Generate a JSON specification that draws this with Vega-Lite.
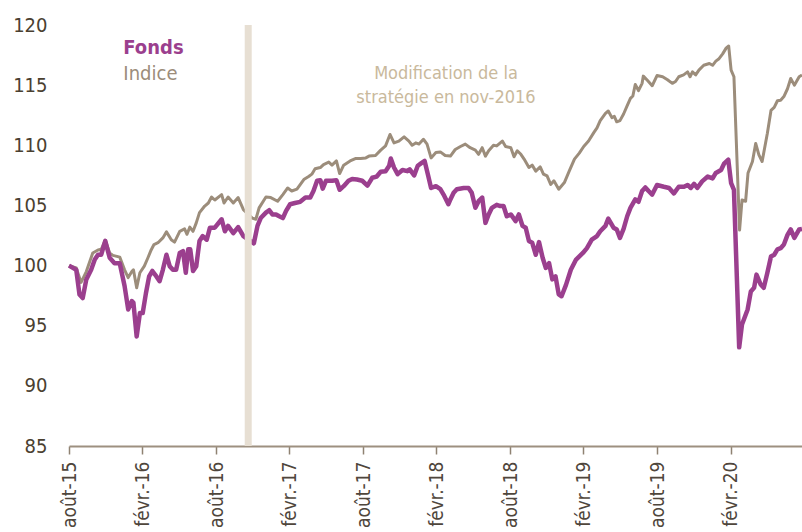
{
  "$schema": "https://vega.github.io/schema/vega-lite/v6.json",
  "width": 733,
  "height": 421,
  "autosize": "none",
  "padding": {"left": 69, "top": 25, "right": 0, "bottom": 86},
  "background": "white",
  "config": {"view": {"stroke": null}, "font": "DejaVu Sans Condensed, Liberation Sans"},
  "datasets": {
    "series": [
      {"d":"2015-08-31","s":"Indice","v":100.0},{"d":"2015-09-18","s":"Indice","v":99.8},{"d":"2015-09-30","s":"Indice","v":98.6},{"d":"2015-10-13","s":"Indice","v":99.5},{"d":"2015-10-29","s":"Indice","v":101.05},{"d":"2015-11-11","s":"Indice","v":101.3},{"d":"2015-11-19","s":"Indice","v":101.35},{"d":"2015-11-29","s":"Indice","v":102.1},{"d":"2015-12-10","s":"Indice","v":101.05},{"d":"2015-12-18","s":"Indice","v":100.85},
      {"d":"2016-01-04","s":"Indice","v":100.7},{"d":"2016-01-16","s":"Indice","v":99.65},{"d":"2016-01-25","s":"Indice","v":99.0},{"d":"2016-02-03","s":"Indice","v":99.5},{"d":"2016-02-07","s":"Indice","v":99.65},{"d":"2016-02-15","s":"Indice","v":98.15},{"d":"2016-02-23","s":"Indice","v":99.4},{"d":"2016-03-05","s":"Indice","v":99.95},{"d":"2016-03-14","s":"Indice","v":100.65},{"d":"2016-03-22","s":"Indice","v":101.3},
      {"d":"2016-03-29","s":"Indice","v":101.75},{"d":"2016-04-08","s":"Indice","v":101.9},{"d":"2016-04-20","s":"Indice","v":102.3},{"d":"2016-04-29","s":"Indice","v":102.8},{"d":"2016-05-11","s":"Indice","v":102.15},{"d":"2016-05-19","s":"Indice","v":101.95},{"d":"2016-06-01","s":"Indice","v":102.85},{"d":"2016-06-13","s":"Indice","v":103.05},{"d":"2016-06-19","s":"Indice","v":102.6},{"d":"2016-06-26","s":"Indice","v":103.2},
      {"d":"2016-07-04","s":"Indice","v":102.85},{"d":"2016-07-12","s":"Indice","v":103.55},{"d":"2016-07-20","s":"Indice","v":104.4},{"d":"2016-08-02","s":"Indice","v":104.95},{"d":"2016-08-11","s":"Indice","v":105.2},{"d":"2016-08-19","s":"Indice","v":105.7},{"d":"2016-08-27","s":"Indice","v":105.45},{"d":"2016-09-13","s":"Indice","v":105.9},{"d":"2016-09-19","s":"Indice","v":105.2},{"d":"2016-09-29","s":"Indice","v":105.7},
      {"d":"2016-10-12","s":"Indice","v":105.2},{"d":"2016-10-24","s":"Indice","v":105.65},{"d":"2016-11-06","s":"Indice","v":104.65},{"d":"2016-11-28","s":"Indice","v":103.95},{"d":"2016-12-07","s":"Indice","v":103.85},{"d":"2016-12-15","s":"Indice","v":104.8},{"d":"2017-01-01","s":"Indice","v":105.7},{"d":"2017-01-13","s":"Indice","v":105.65},{"d":"2017-01-30","s":"Indice","v":105.35},{"d":"2017-02-12","s":"Indice","v":105.9},
      {"d":"2017-02-24","s":"Indice","v":106.45},{"d":"2017-03-06","s":"Indice","v":106.2},{"d":"2017-03-19","s":"Indice","v":106.35},{"d":"2017-04-05","s":"Indice","v":107.15},{"d":"2017-04-17","s":"Indice","v":107.4},{"d":"2017-04-25","s":"Indice","v":107.6},{"d":"2017-05-03","s":"Indice","v":108.05},{"d":"2017-05-16","s":"Indice","v":108.15},{"d":"2017-05-24","s":"Indice","v":108.4},{"d":"2017-06-06","s":"Indice","v":108.6},
      {"d":"2017-06-14","s":"Indice","v":108.35},{"d":"2017-06-25","s":"Indice","v":108.7},{"d":"2017-07-03","s":"Indice","v":107.65},{"d":"2017-07-13","s":"Indice","v":108.35},{"d":"2017-07-29","s":"Indice","v":108.7},{"d":"2017-08-11","s":"Indice","v":108.9},{"d":"2017-08-24","s":"Indice","v":108.9},{"d":"2017-09-06","s":"Indice","v":108.95},{"d":"2017-09-14","s":"Indice","v":109.1},{"d":"2017-09-30","s":"Indice","v":109.15},
      {"d":"2017-10-13","s":"Indice","v":109.6},{"d":"2017-10-25","s":"Indice","v":109.95},{"d":"2017-11-05","s":"Indice","v":110.9},{"d":"2017-11-15","s":"Indice","v":110.2},{"d":"2017-11-27","s":"Indice","v":110.35},{"d":"2017-12-10","s":"Indice","v":110.7},{"d":"2017-12-22","s":"Indice","v":110.35},{"d":"2017-12-30","s":"Indice","v":110.0},{"d":"2018-01-08","s":"Indice","v":110.2},{"d":"2018-01-16","s":"Indice","v":110.1},
      {"d":"2018-01-27","s":"Indice","v":110.5},{"d":"2018-02-05","s":"Indice","v":110.1},{"d":"2018-02-15","s":"Indice","v":108.95},{"d":"2018-02-27","s":"Indice","v":109.4},{"d":"2018-03-10","s":"Indice","v":109.45},{"d":"2018-03-22","s":"Indice","v":109.15},{"d":"2018-04-04","s":"Indice","v":109.1},{"d":"2018-04-16","s":"Indice","v":109.65},{"d":"2018-04-29","s":"Indice","v":109.9},{"d":"2018-05-11","s":"Indice","v":110.1},
      {"d":"2018-05-23","s":"Indice","v":109.8},{"d":"2018-06-05","s":"Indice","v":109.6},{"d":"2018-06-13","s":"Indice","v":109.25},{"d":"2018-06-22","s":"Indice","v":109.8},{"d":"2018-06-30","s":"Indice","v":109.1},{"d":"2018-07-08","s":"Indice","v":109.55},{"d":"2018-07-20","s":"Indice","v":110.0},{"d":"2018-07-28","s":"Indice","v":109.95},{"d":"2018-08-11","s":"Indice","v":110.35},{"d":"2018-08-19","s":"Indice","v":109.9},
      {"d":"2018-09-01","s":"Indice","v":109.8},{"d":"2018-09-09","s":"Indice","v":109.05},{"d":"2018-09-17","s":"Indice","v":109.55},{"d":"2018-09-26","s":"Indice","v":109.25},{"d":"2018-10-04","s":"Indice","v":108.85},{"d":"2018-10-16","s":"Indice","v":108.15},{"d":"2018-10-24","s":"Indice","v":108.35},{"d":"2018-11-02","s":"Indice","v":107.85},{"d":"2018-11-13","s":"Indice","v":108.2},{"d":"2018-11-21","s":"Indice","v":107.6},
      {"d":"2018-11-30","s":"Indice","v":107.45},{"d":"2018-12-09","s":"Indice","v":106.75},{"d":"2018-12-17","s":"Indice","v":107.05},{"d":"2018-12-29","s":"Indice","v":106.35},{"d":"2019-01-12","s":"Indice","v":106.9},{"d":"2019-01-24","s":"Indice","v":107.85},{"d":"2019-02-06","s":"Indice","v":108.85},{"d":"2019-02-18","s":"Indice","v":109.35},{"d":"2019-03-01","s":"Indice","v":109.9},{"d":"2019-03-13","s":"Indice","v":110.35},
      {"d":"2019-03-26","s":"Indice","v":111.05},{"d":"2019-04-03","s":"Indice","v":111.45},{"d":"2019-04-11","s":"Indice","v":112.05},{"d":"2019-04-24","s":"Indice","v":112.65},{"d":"2019-05-01","s":"Indice","v":112.85},{"d":"2019-05-10","s":"Indice","v":112.3},{"d":"2019-05-16","s":"Indice","v":112.4},{"d":"2019-05-22","s":"Indice","v":111.95},{"d":"2019-05-30","s":"Indice","v":112.05},{"d":"2019-06-08","s":"Indice","v":112.6},
      {"d":"2019-06-17","s":"Indice","v":113.3},{"d":"2019-06-25","s":"Indice","v":113.9},{"d":"2019-07-01","s":"Indice","v":114.1},{"d":"2019-07-07","s":"Indice","v":115.05},{"d":"2019-07-15","s":"Indice","v":114.55},{"d":"2019-07-24","s":"Indice","v":115.15},{"d":"2019-07-27","s":"Indice","v":115.75},{"d":"2019-08-06","s":"Indice","v":115.4},{"d":"2019-08-18","s":"Indice","v":114.95},{"d":"2019-08-30","s":"Indice","v":115.8},
      {"d":"2019-09-13","s":"Indice","v":115.7},{"d":"2019-09-25","s":"Indice","v":115.45},{"d":"2019-10-07","s":"Indice","v":115.15},{"d":"2019-10-15","s":"Indice","v":115.3},{"d":"2019-10-23","s":"Indice","v":115.7},{"d":"2019-11-04","s":"Indice","v":115.85},{"d":"2019-11-14","s":"Indice","v":116.1},{"d":"2019-11-20","s":"Indice","v":115.7},{"d":"2019-11-26","s":"Indice","v":116.1},{"d":"2019-12-04","s":"Indice","v":115.85},
      {"d":"2019-12-12","s":"Indice","v":116.25},{"d":"2019-12-24","s":"Indice","v":116.65},{"d":"2020-01-07","s":"Indice","v":116.8},{"d":"2020-01-15","s":"Indice","v":116.65},{"d":"2020-01-23","s":"Indice","v":117.0},{"d":"2020-01-31","s":"Indice","v":117.2},{"d":"2020-02-09","s":"Indice","v":117.6},{"d":"2020-02-18","s":"Indice","v":118.1},{"d":"2020-02-24","s":"Indice","v":118.25},{"d":"2020-03-01","s":"Indice","v":116.25},
      {"d":"2020-03-08","s":"Indice","v":115.7},{"d":"2020-03-22","s":"Indice","v":102.95},{"d":"2020-03-28","s":"Indice","v":105.45},{"d":"2020-04-06","s":"Indice","v":105.35},{"d":"2020-04-12","s":"Indice","v":107.7},{"d":"2020-04-23","s":"Indice","v":108.65},{"d":"2020-05-01","s":"Indice","v":110.15},{"d":"2020-05-09","s":"Indice","v":109.2},{"d":"2020-05-17","s":"Indice","v":108.65},{"d":"2020-05-30","s":"Indice","v":111.0},
      {"d":"2020-06-08","s":"Indice","v":112.9},{"d":"2020-06-16","s":"Indice","v":113.15},{"d":"2020-06-24","s":"Indice","v":113.7},{"d":"2020-07-02","s":"Indice","v":113.75},{"d":"2020-07-10","s":"Indice","v":114.05},{"d":"2020-07-19","s":"Indice","v":114.7},{"d":"2020-07-27","s":"Indice","v":115.55},{"d":"2020-08-05","s":"Indice","v":115.0},{"d":"2020-08-17","s":"Indice","v":115.7},{"d":"2020-08-24","s":"Indice","v":115.85},

      {"d":"2015-08-31","s":"Fonds","v":100.0},{"d":"2015-09-18","s":"Fonds","v":99.65},{"d":"2015-09-26","s":"Fonds","v":97.6},{"d":"2015-10-04","s":"Fonds","v":97.3},{"d":"2015-10-13","s":"Fonds","v":98.85},{"d":"2015-10-25","s":"Fonds","v":99.65},{"d":"2015-11-03","s":"Fonds","v":100.5},{"d":"2015-11-11","s":"Fonds","v":100.9},{"d":"2015-11-19","s":"Fonds","v":100.9},{"d":"2015-11-29","s":"Fonds","v":102.05},
      {"d":"2015-12-10","s":"Fonds","v":100.65},{"d":"2015-12-22","s":"Fonds","v":100.2},{"d":"2016-01-04","s":"Fonds","v":100.2},{"d":"2016-01-16","s":"Fonds","v":98.3},{"d":"2016-01-25","s":"Fonds","v":96.35},{"d":"2016-02-03","s":"Fonds","v":97.05},{"d":"2016-02-07","s":"Fonds","v":96.9},{"d":"2016-02-15","s":"Fonds","v":94.1},{"d":"2016-02-23","s":"Fonds","v":96.05},{"d":"2016-03-01","s":"Fonds","v":96.05},
      {"d":"2016-03-09","s":"Fonds","v":97.7},{"d":"2016-03-17","s":"Fonds","v":99.1},{"d":"2016-03-25","s":"Fonds","v":99.55},{"d":"2016-04-04","s":"Fonds","v":99.1},{"d":"2016-04-12","s":"Fonds","v":98.7},{"d":"2016-04-20","s":"Fonds","v":99.65},{"d":"2016-04-29","s":"Fonds","v":100.9},{"d":"2016-05-07","s":"Fonds","v":99.95},{"d":"2016-05-15","s":"Fonds","v":99.65},{"d":"2016-05-23","s":"Fonds","v":99.65},
      {"d":"2016-06-01","s":"Fonds","v":101.05},{"d":"2016-06-09","s":"Fonds","v":101.2},{"d":"2016-06-16","s":"Fonds","v":99.4},{"d":"2016-06-22","s":"Fonds","v":101.35},{"d":"2016-06-27","s":"Fonds","v":101.35},{"d":"2016-07-04","s":"Fonds","v":99.55},{"d":"2016-07-12","s":"Fonds","v":99.95},{"d":"2016-07-20","s":"Fonds","v":102.05},{"d":"2016-07-28","s":"Fonds","v":102.45},{"d":"2016-08-07","s":"Fonds","v":102.15},
      {"d":"2016-08-15","s":"Fonds","v":103.15},{"d":"2016-08-27","s":"Fonds","v":103.15},{"d":"2016-09-13","s":"Fonds","v":103.85},{"d":"2016-09-21","s":"Fonds","v":102.85},{"d":"2016-09-29","s":"Fonds","v":103.3},{"d":"2016-10-12","s":"Fonds","v":102.7},{"d":"2016-10-24","s":"Fonds","v":103.2},{"d":"2016-11-06","s":"Fonds","v":102.45},{"d":"2016-12-02","s":"Fonds","v":101.85},{"d":"2016-12-11","s":"Fonds","v":103.3},
      {"d":"2016-12-19","s":"Fonds","v":103.95},{"d":"2017-01-01","s":"Fonds","v":104.4},{"d":"2017-01-09","s":"Fonds","v":104.6},{"d":"2017-01-17","s":"Fonds","v":104.25},{"d":"2017-01-26","s":"Fonds","v":104.25},{"d":"2017-02-03","s":"Fonds","v":104.1},{"d":"2017-02-12","s":"Fonds","v":103.95},{"d":"2017-02-20","s":"Fonds","v":104.55},{"d":"2017-03-02","s":"Fonds","v":105.1},{"d":"2017-03-14","s":"Fonds","v":105.2},
      {"d":"2017-03-27","s":"Fonds","v":105.3},{"d":"2017-04-09","s":"Fonds","v":105.65},{"d":"2017-04-21","s":"Fonds","v":105.65},{"d":"2017-04-29","s":"Fonds","v":106.2},{"d":"2017-05-08","s":"Fonds","v":107.05},{"d":"2017-05-16","s":"Fonds","v":107.1},{"d":"2017-05-22","s":"Fonds","v":106.4},{"d":"2017-05-30","s":"Fonds","v":107.05},{"d":"2017-06-14","s":"Fonds","v":107.05},{"d":"2017-06-25","s":"Fonds","v":107.1},
      {"d":"2017-07-03","s":"Fonds","v":106.3},{"d":"2017-07-13","s":"Fonds","v":106.6},{"d":"2017-07-25","s":"Fonds","v":107.05},{"d":"2017-08-03","s":"Fonds","v":107.2},{"d":"2017-08-15","s":"Fonds","v":107.15},{"d":"2017-08-28","s":"Fonds","v":107.05},{"d":"2017-09-10","s":"Fonds","v":106.65},{"d":"2017-09-22","s":"Fonds","v":107.3},{"d":"2017-10-03","s":"Fonds","v":107.4},{"d":"2017-10-13","s":"Fonds","v":107.8},
      {"d":"2017-10-25","s":"Fonds","v":107.85},{"d":"2017-11-03","s":"Fonds","v":108.3},{"d":"2017-11-07","s":"Fonds","v":108.9},{"d":"2017-11-15","s":"Fonds","v":108.15},{"d":"2017-11-24","s":"Fonds","v":107.6},{"d":"2017-12-06","s":"Fonds","v":107.95},{"d":"2017-12-18","s":"Fonds","v":107.85},{"d":"2017-12-24","s":"Fonds","v":108.0},{"d":"2018-01-04","s":"Fonds","v":107.5},{"d":"2018-01-13","s":"Fonds","v":108.3},
      {"d":"2018-01-21","s":"Fonds","v":108.5},{"d":"2018-01-30","s":"Fonds","v":108.7},{"d":"2018-02-08","s":"Fonds","v":107.45},{"d":"2018-02-15","s":"Fonds","v":106.45},{"d":"2018-02-27","s":"Fonds","v":106.6},{"d":"2018-03-10","s":"Fonds","v":106.35},{"d":"2018-03-18","s":"Fonds","v":105.9},{"d":"2018-03-30","s":"Fonds","v":105.1},{"d":"2018-04-04","s":"Fonds","v":105.5},{"d":"2018-04-12","s":"Fonds","v":106.05},
      {"d":"2018-04-20","s":"Fonds","v":106.35},{"d":"2018-05-07","s":"Fonds","v":106.45},{"d":"2018-05-19","s":"Fonds","v":106.45},{"d":"2018-05-27","s":"Fonds","v":106.05},{"d":"2018-06-05","s":"Fonds","v":104.8},{"d":"2018-06-13","s":"Fonds","v":105.35},{"d":"2018-06-22","s":"Fonds","v":105.65},{"d":"2018-06-30","s":"Fonds","v":103.55},{"d":"2018-07-08","s":"Fonds","v":104.25},{"d":"2018-07-16","s":"Fonds","v":104.8},
      {"d":"2018-07-28","s":"Fonds","v":105.05},{"d":"2018-08-06","s":"Fonds","v":104.95},{"d":"2018-08-14","s":"Fonds","v":104.95},{"d":"2018-08-22","s":"Fonds","v":104.1},{"d":"2018-09-01","s":"Fonds","v":104.25},{"d":"2018-09-13","s":"Fonds","v":103.7},{"d":"2018-09-21","s":"Fonds","v":104.25},{"d":"2018-09-30","s":"Fonds","v":103.3},{"d":"2018-10-08","s":"Fonds","v":103.15},{"d":"2018-10-16","s":"Fonds","v":102.05},
      {"d":"2018-10-24","s":"Fonds","v":101.9},{"d":"2018-11-02","s":"Fonds","v":100.9},{"d":"2018-11-10","s":"Fonds","v":101.95},{"d":"2018-11-19","s":"Fonds","v":100.65},{"d":"2018-11-27","s":"Fonds","v":99.8},{"d":"2018-12-05","s":"Fonds","v":100.2},{"d":"2018-12-13","s":"Fonds","v":98.85},{"d":"2018-12-21","s":"Fonds","v":99.1},{"d":"2018-12-29","s":"Fonds","v":97.6},{"d":"2019-01-05","s":"Fonds","v":97.45},
      {"d":"2019-01-16","s":"Fonds","v":98.4},{"d":"2019-01-28","s":"Fonds","v":99.65},{"d":"2019-02-10","s":"Fonds","v":100.5},{"d":"2019-02-27","s":"Fonds","v":101.05},{"d":"2019-03-09","s":"Fonds","v":101.45},{"d":"2019-03-21","s":"Fonds","v":102.15},{"d":"2019-04-03","s":"Fonds","v":102.45},{"d":"2019-04-11","s":"Fonds","v":102.85},{"d":"2019-04-24","s":"Fonds","v":103.3},{"d":"2019-05-01","s":"Fonds","v":103.9},
      {"d":"2019-05-14","s":"Fonds","v":103.15},{"d":"2019-05-22","s":"Fonds","v":103.0},{"d":"2019-05-30","s":"Fonds","v":102.3},{"d":"2019-06-08","s":"Fonds","v":103.05},{"d":"2019-06-17","s":"Fonds","v":104.1},{"d":"2019-06-25","s":"Fonds","v":104.8},{"d":"2019-07-07","s":"Fonds","v":105.5},{"d":"2019-07-15","s":"Fonds","v":105.3},{"d":"2019-07-24","s":"Fonds","v":106.2},{"d":"2019-08-01","s":"Fonds","v":106.5},
      {"d":"2019-08-09","s":"Fonds","v":106.2},{"d":"2019-08-18","s":"Fonds","v":105.9},{"d":"2019-08-30","s":"Fonds","v":106.7},{"d":"2019-09-16","s":"Fonds","v":106.55},{"d":"2019-09-29","s":"Fonds","v":106.45},{"d":"2019-10-11","s":"Fonds","v":106.0},{"d":"2019-10-23","s":"Fonds","v":106.55},{"d":"2019-11-05","s":"Fonds","v":106.55},{"d":"2019-11-14","s":"Fonds","v":106.7},{"d":"2019-11-22","s":"Fonds","v":106.45},
      {"d":"2019-11-30","s":"Fonds","v":106.8},{"d":"2019-12-08","s":"Fonds","v":106.45},{"d":"2019-12-20","s":"Fonds","v":107.0},{"d":"2020-01-03","s":"Fonds","v":107.4},{"d":"2020-01-15","s":"Fonds","v":107.25},{"d":"2020-01-23","s":"Fonds","v":107.7},{"d":"2020-02-05","s":"Fonds","v":107.95},{"d":"2020-02-13","s":"Fonds","v":108.5},{"d":"2020-02-23","s":"Fonds","v":108.8},{"d":"2020-03-01","s":"Fonds","v":106.85},
      {"d":"2020-03-08","s":"Fonds","v":106.3},{"d":"2020-03-21","s":"Fonds","v":93.2},{"d":"2020-03-28","s":"Fonds","v":95.1},{"d":"2020-04-11","s":"Fonds","v":96.35},{"d":"2020-04-19","s":"Fonds","v":97.85},{"d":"2020-04-27","s":"Fonds","v":98.15},{"d":"2020-05-03","s":"Fonds","v":99.25},{"d":"2020-05-13","s":"Fonds","v":98.45},{"d":"2020-05-21","s":"Fonds","v":98.15},{"d":"2020-05-30","s":"Fonds","v":99.4},
      {"d":"2020-06-08","s":"Fonds","v":100.75},{"d":"2020-06-16","s":"Fonds","v":100.9},{"d":"2020-06-24","s":"Fonds","v":101.35},{"d":"2020-07-02","s":"Fonds","v":101.45},{"d":"2020-07-10","s":"Fonds","v":101.75},{"d":"2020-07-19","s":"Fonds","v":102.55},{"d":"2020-07-27","s":"Fonds","v":103.0},{"d":"2020-08-05","s":"Fonds","v":102.3},{"d":"2020-08-17","s":"Fonds","v":103.0},{"d":"2020-08-24","s":"Fonds","v":103.05}
    ]
  },
  "layer": [
    {
      "data": {"values": [{}]},
      "mark": {"type": "rect", "color": "white"},
      "encoding": {
        "x": {"datum": {"year": 2017, "month": 6, "date": 13, "utc": true}, "type": "temporal"},
        "x2": {"datum": {"year": 2019, "month": 1, "date": 8, "utc": true}},
        "y": {"datum": 112, "type": "quantitative"},
        "y2": {"datum": 118}
      }
    },
    {
      "data": {"values": [{}]},
      "mark": {"type": "rect", "color": "white"},
      "encoding": {
        "x": {"datum": {"year": 2015, "month": 11, "date": 24, "utc": true}, "type": "temporal"},
        "x2": {"datum": {"year": 2016, "month": 8, "date": 9, "utc": true}},
        "y": {"datum": 113, "type": "quantitative"},
        "y2": {"datum": 120.3}
      }
    },
    {
      "data": {"name": "series"},
      "mark": {"type": "line", "strokeJoin": "round"},
      "encoding": {
        "x": {
          "field": "d", "type": "temporal",
          "scale": {"type": "utc", "domain": [{"year": 2015, "month": 8, "date": 31, "utc": true}, {"year": 2020, "month": 8, "date": 24, "utc": true}]},
          "axis": {
            "title": null,
            "grid": false,
            "values": [
              {"year": 2015, "month": 8, "date": 31, "utc": true},
              {"year": 2016, "month": 2, "date": 29, "utc": true},
              {"year": 2016, "month": 8, "date": 31, "utc": true},
              {"year": 2017, "month": 2, "date": 28, "utc": true},
              {"year": 2017, "month": 8, "date": 31, "utc": true},
              {"year": 2018, "month": 2, "date": 28, "utc": true},
              {"year": 2018, "month": 8, "date": 31, "utc": true},
              {"year": 2019, "month": 2, "date": 28, "utc": true},
              {"year": 2019, "month": 8, "date": 31, "utc": true},
              {"year": 2020, "month": 2, "date": 29, "utc": true}
            ],
            "labelExpr": "(utcFormat(datum.value, '%m') == '08' ? 'août-' : 'févr.-') + utcFormat(datum.value, '%y')",
            "labelAngle": 270,
            "labelAlign": "right",
            "labelBaseline": "middle",
            "labelFontSize": 19,
            "labelColor": "#4f463c",
            "labelPadding": 7,
            "labelOverlap": false,
            "labelFlush": false,
            "domainColor": "#9d9080",
            "domainWidth": 2,
            "tickColor": "#8f8272",
            "tickWidth": 1.5,
            "tickSize": 8
          }
        },
        "y": {
          "field": "v", "type": "quantitative",
          "scale": {"domain": [85, 120], "nice": false, "zero": false},
          "axis": {
            "title": null,
            "values": [85, 90, 95, 100, 105, 110, 115, 120],
            "domain": false,
            "ticks": false,
            "tickSize": 0,
            "labelPadding": 22,
            "labelFontSize": 20,
            "labelColor": "#4a4030",
            "gridColor": "#cdc4b8",
            "gridWidth": 2
          }
        },
        "color": {
          "field": "s", "type": "nominal",
          "scale": {"domain": ["Fonds", "Indice"], "range": ["#9b3f8e", "#9c8d7b"]},
          "legend": null
        },
        "strokeWidth": {
          "field": "s", "type": "nominal",
          "scale": {"domain": ["Fonds", "Indice"], "range": [4.5, 3]},
          "legend": null
        }
      }
    },
    {
      "data": {"values": [{}]},
      "mark": {"type": "rule", "strokeWidth": 7, "color": "#e7dfd3"},
      "encoding": {
        "x": {"datum": {"year": 2016, "month": 11, "date": 18, "utc": true}, "type": "temporal"}
      }
    },
    {
      "data": {"values": [{}]},
      "mark": {"type": "text", "align": "center", "baseline": "alphabetic", "fontSize": 18, "lineHeight": 24.5, "color": "#c9b99c"},
      "encoding": {
        "x": {"datum": {"year": 2018, "month": 3, "date": 24, "utc": true}, "type": "temporal"},
        "y": {"datum": 115.54, "type": "quantitative"},
        "text": {"value": ["Modification de la", "stratégie en nov-2016"]}
      }
    },
    {
      "data": {"values": [{}]},
      "mark": {"type": "text", "align": "left", "baseline": "middle", "fontSize": 20, "fontWeight": "bold", "color": "#9b3f8e"},
      "encoding": {
        "x": {"datum": {"year": 2016, "month": 1, "date": 13, "utc": true}, "type": "temporal"},
        "y": {"datum": 118.1, "type": "quantitative"},
        "text": {"value": "Fonds"}
      }
    },
    {
      "data": {"values": [{}]},
      "mark": {"type": "text", "align": "left", "baseline": "middle", "fontSize": 20, "color": "#9c8d7b"},
      "encoding": {
        "x": {"datum": {"year": 2016, "month": 1, "date": 13, "utc": true}, "type": "temporal"},
        "y": {"datum": 115.95, "type": "quantitative"},
        "text": {"value": "Indice"}
      }
    }
  ]
}
